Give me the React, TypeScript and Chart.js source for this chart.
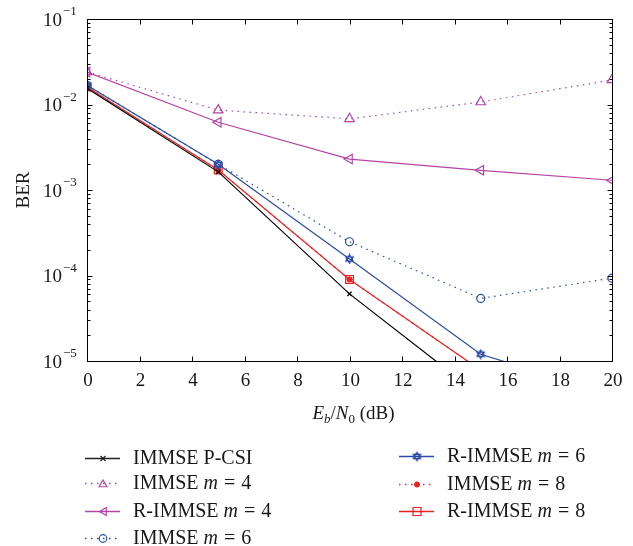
import React, { useEffect, useRef } from 'react';
import { Chart, registerables } from 'chart.js';

Chart.register(...registerables);

const snr = [0, 5, 10, 15, 20];
const immsePcsi = [0.0155, 0.00163, 6.1e-5, 3.9e-6, 2.5e-7];
const immseM4 = [0.024, 0.0086, 0.0068, 0.0107, 0.0194];
const rImmseM4 = [0.024, 0.0062, 0.0023, 0.0017, 0.0013];
const immseM6 = [0.0168, 0.002, 0.000248, 5.4e-5, 9.3e-5];
const rImmseM6 = [0.0168, 0.002, 0.000156, 1.2e-5, 4e-6];
const immseM8 = [0.016, 0.00171, 9e-5, 7.8e-6, 7e-7];
const rImmseM8 = [0.016, 0.00171, 9e-5, 7.8e-6, 7e-7];

const xTicks = [0, 2, 4, 6, 8, 10, 12, 14, 16, 18, 20];
const yDecades = [-1, -2, -3, -4, -5];

const legendPrefix = ['IMMSE P-CSI', 'IMMSE', 'R-IMMSE', 'IMMSE', 'R-IMMSE', 'IMMSE', 'R-IMMSE'];
const legendM = [null, '4', '4', '6', '6', '8', '8'];

const BLACK = '#000000';
const MAGENTA = '#b543a6';
const BLUE = '#2b4aa6';
const RED = '#f02020';
const TEXT = '#1a1718';
const SERIF = '"Liberation Serif", "DejaVu Serif", serif';
const DOT = [1.5, 4.5];

function makeHexagram(color: string): HTMLCanvasElement {
  const c = document.createElement('canvas');
  c.width = 11;
  c.height = 11;
  const g = c.getContext('2d')!;
  g.strokeStyle = color;
  g.lineWidth = 1.3;
  const r = 4.2;
  const cx = 5.5, cy = 5.5;
  for (const off of [-Math.PI / 2, Math.PI / 2]) {
    g.beginPath();
    for (let i = 0; i < 3; i++) {
      const a = off + (i * 2 * Math.PI) / 3;
      const px = cx + r * Math.cos(a);
      const py = cy + r * Math.sin(a);
      if (i === 0) g.moveTo(px, py);
      else g.lineTo(px, py);
    }
    g.closePath();
    g.stroke();
  }
  return c;
}

function drawMarker(ctx: CanvasRenderingContext2D, kind: string, x: number, y: number, color: string, hex: HTMLCanvasElement) {
  ctx.save();
  ctx.strokeStyle = color;
  ctx.fillStyle = color;
  ctx.lineWidth = 1.2;
  ctx.setLineDash([]);
  ctx.beginPath();
  if (kind === 'x') {
    const s = 2.5;
    ctx.moveTo(x - s, y - s); ctx.lineTo(x + s, y + s);
    ctx.moveTo(x - s, y + s); ctx.lineTo(x + s, y - s);
    ctx.stroke();
  } else if (kind === 'tri' || kind === 'triL') {
    const r = 4.5;
    const base = kind === 'tri' ? -Math.PI / 2 : Math.PI;
    for (let i = 0; i < 3; i++) {
      const a = base + (i * 2 * Math.PI) / 3;
      const px = x + r * Math.cos(a) + (kind === 'triL' ? 1 : 0);
      const py = y + r * Math.sin(a) + (kind === 'tri' ? 1 : 0);
      if (i === 0) ctx.moveTo(px, py); else ctx.lineTo(px, py);
    }
    ctx.closePath();
    ctx.stroke();
  } else if (kind === 'circle') {
    ctx.arc(x, y, 3.8, 0, Math.PI * 2);
    ctx.stroke();
  } else if (kind === 'hex') {
    ctx.drawImage(hex, x - hex.width / 2, y - hex.height / 2);
  } else if (kind === 'star') {
    ctx.lineWidth = 1.8;
    const s = 3;
    ctx.moveTo(x - s, y); ctx.lineTo(x + s, y);
    ctx.moveTo(x, y - s); ctx.lineTo(x, y + s);
    ctx.moveTo(x - s * 0.7, y - s * 0.7); ctx.lineTo(x + s * 0.7, y + s * 0.7);
    ctx.moveTo(x - s * 0.7, y + s * 0.7); ctx.lineTo(x + s * 0.7, y - s * 0.7);
    ctx.stroke();
  } else if (kind === 'rect') {
    ctx.rect(x - 4, y - 4, 8, 8);
    ctx.stroke();
  }
  ctx.restore();
}

export default function App() {
  const ref = useRef<HTMLCanvasElement | null>(null);

  useEffect(() => {
    if (!ref.current) return;
    const hex = makeHexagram(BLUE);
    const pts = (arr: number[]) => snr.map((x, i) => ({ x, y: arr[i] }));

    const legendKinds = ['x', 'tri', 'triL', 'circle', 'hex', 'star', 'rect'];
    const legendColors = ['#222222', MAGENTA, MAGENTA, BLUE, BLUE, RED, RED];
    const legendDashed = [false, true, false, true, false, true, false];

    const overlay = {
      id: 'overlay',
      afterDraw(chart: any) {
        const ctx: CanvasRenderingContext2D = chart.ctx;
        const { left, right, top, bottom } = chart.chartArea;
        const xs = chart.scales.x;
        const ys = chart.scales.y;
        ctx.save();
        // frame
        ctx.strokeStyle = '#000';
        ctx.lineWidth = 1;
        ctx.setLineDash([]);
        const L = Math.round(left) + 0.5, R = Math.round(right) + 0.5;
        const T = Math.round(top) + 0.5, B = Math.round(bottom) + 0.5;
        ctx.strokeRect(L, T, R - L, B - T);
        // x ticks
        ctx.beginPath();
        for (const t of xTicks) {
          const px = Math.round(xs.getPixelForValue(t)) + 0.5;
          ctx.moveTo(px, B); ctx.lineTo(px, B - 5);
          ctx.moveTo(px, T); ctx.lineTo(px, T + 5);
        }
        // y ticks
        for (const d of yDecades) {
          const py = Math.round(ys.getPixelForValue(Math.pow(10, d))) + 0.5;
          ctx.moveTo(L, py); ctx.lineTo(L + 5, py);
          ctx.moveTo(R, py); ctx.lineTo(R - 5, py);
          if (d > -5) {
            for (let k = 2; k <= 9; k++) {
              const pm = Math.round(ys.getPixelForValue(k * Math.pow(10, d - 1))) + 0.5;
              ctx.moveTo(L, pm); ctx.lineTo(L + 3, pm);
              ctx.moveTo(R, pm); ctx.lineTo(R - 3, pm);
            }
          }
        }
        ctx.stroke();

        ctx.fillStyle = TEXT;
        // x tick labels
        ctx.font = `19px ${SERIF}`;
        ctx.textAlign = 'center';
        ctx.textBaseline = 'middle';
        for (const t of xTicks) {
          ctx.fillText(String(t), xs.getPixelForValue(t) + 1, bottom + 20);
        }
        // y tick labels
        for (const d of yDecades) {
          const py = ys.getPixelForValue(Math.pow(10, d));
          ctx.font = `19px ${SERIF}`;
          ctx.textAlign = 'right';
          ctx.textBaseline = 'middle';
          ctx.fillText('10', 62, py + 2);
          ctx.font = `13px ${SERIF}`;
          ctx.textAlign = 'left';
          ctx.fillText('\u2212' + String(-d), 63, py - 7);
        }
        // y title
        ctx.save();
        ctx.translate(24, (top + bottom) / 2);
        ctx.rotate(-Math.PI / 2);
        ctx.font = `19px ${SERIF}`;
        ctx.textAlign = 'center';
        ctx.textBaseline = 'middle';
        ctx.fillText('BER', 0, 0);
        ctx.restore();
        // x title
        const parts: [string, string, number][] = [
          ['E', `italic 19px ${SERIF}`, 0],
          ['b', `italic 13px ${SERIF}`, 4],
          ['/', `19px ${SERIF}`, 0],
          ['N', `italic 19px ${SERIF}`, 0],
          ['0', `13px ${SERIF}`, 4],
          [' (dB)', `19px ${SERIF}`, 0],
        ];
        ctx.textAlign = 'left';
        ctx.textBaseline = 'alphabetic';
        let total = 0;
        for (const [s, f] of parts) { ctx.font = f; total += ctx.measureText(s).width; }
        let cx = (left + right) / 2 + 4 - total / 2;
        const base = bottom + 58;
        for (const [s, f, dy] of parts) {
          ctx.font = f;
          ctx.fillText(s, cx, base + dy);
          cx += ctx.measureText(s).width;
        }

        // legend
        const colX = [85, 399];
        const rowY = [[458, 483, 511, 538], [456, 484, 511]];
        for (let i = 0; i < legendPrefix.length; i++) {
          const col = i < 4 ? 0 : 1;
          const row = i < 4 ? i : i - 4;
          const x0 = colX[col];
          const y = rowY[col][row];
          ctx.save();
          ctx.strokeStyle = legendColors[i];
          ctx.lineWidth = 1.3;
          ctx.setLineDash(legendDashed[i] ? DOT : []);
          ctx.beginPath();
          ctx.moveTo(x0, y + 0.5);
          ctx.lineTo(x0 + 35, y + 0.5);
          ctx.stroke();
          ctx.restore();
          drawMarker(ctx, legendKinds[i], x0 + 18, y + 0.5, legendColors[i], hex);
          ctx.fillStyle = TEXT;
          ctx.textBaseline = 'middle';
          ctx.textAlign = 'left';
          let tx = x0 + 48;
          ctx.font = `20px ${SERIF}`;
          ctx.fillText(legendPrefix[i], tx, y + 1);
          tx += ctx.measureText(legendPrefix[i]).width;
          if (legendM[i]) {
            tx += 5;
            ctx.font = `italic 20px ${SERIF}`;
            ctx.fillText('m', tx, y + 1);
            tx += ctx.measureText('m').width + 6;
            ctx.font = `20px ${SERIF}`;
            ctx.fillText('=', tx, y + 1);
            tx += ctx.measureText('=').width + 6;
            ctx.fillText(legendM[i] as string, tx, y + 1);
          }
        }
        ctx.restore();
      },
    };

    const common = { borderWidth: 1.2, pointBorderWidth: 1.2, pointBackgroundColor: 'rgba(0,0,0,0)', tension: 0 };

    const chart = new Chart(ref.current, {
      type: 'line',
      data: {
        datasets: [
          { ...common, label: 'IMMSE P-CSI', data: pts(immsePcsi), borderColor: BLACK, pointBorderColor: BLACK, pointStyle: 'crossRot', pointRadius: 3 },
          { ...common, label: 'IMMSE m = 4', data: pts(immseM4), borderColor: MAGENTA, pointBorderColor: MAGENTA, borderDash: DOT, pointStyle: 'triangle', pointRadius: 5.5 },
          { ...common, label: 'R-IMMSE m = 4', data: pts(rImmseM4), borderColor: MAGENTA, pointBorderColor: MAGENTA, pointStyle: 'triangle', pointRotation: -90, pointRadius: 5.5 },
          { ...common, label: 'IMMSE m = 6', data: pts(immseM6), borderColor: BLUE, pointBorderColor: BLUE, borderDash: DOT, pointStyle: 'circle', pointRadius: 4 },
          { ...common, label: 'R-IMMSE m = 6', data: pts(rImmseM6), borderColor: BLUE, pointBorderColor: BLUE, pointStyle: hex, pointRadius: 5 },
          { ...common, label: 'IMMSE m = 8', data: pts(immseM8), borderColor: RED, pointBorderColor: RED, borderDash: DOT, pointStyle: 'star', pointRadius: 3.2, pointBorderWidth: 1.8 },
          { ...common, label: 'R-IMMSE m = 8', data: pts(rImmseM8), borderColor: RED, pointBorderColor: RED, pointStyle: 'rect', pointRadius: 5.5 },
        ],
      },
      options: {
        responsive: false,
        animation: false,
        events: [],
        devicePixelRatio: 1,
        layout: { padding: { left: 87, right: 21, top: 19, bottom: 185 } },
        plugins: { legend: { display: false }, tooltip: { enabled: false }, title: { display: false } },
        scales: {
          x: { type: 'linear', min: 0, max: 20, display: false },
          y: { type: 'logarithmic', min: 1e-5, max: 1e-1, display: false },
        },
      },
      plugins: [overlay],
    } as any);
    return () => chart.destroy();
  }, []);

  return (
    <div style={{ position: 'absolute', left: 0, top: 0, width: 633, height: 546, background: '#fff' }}>
      <canvas ref={ref} width={633} height={546} style={{ display: 'block', width: 633, height: 546 }} />
    </div>
  );
}
